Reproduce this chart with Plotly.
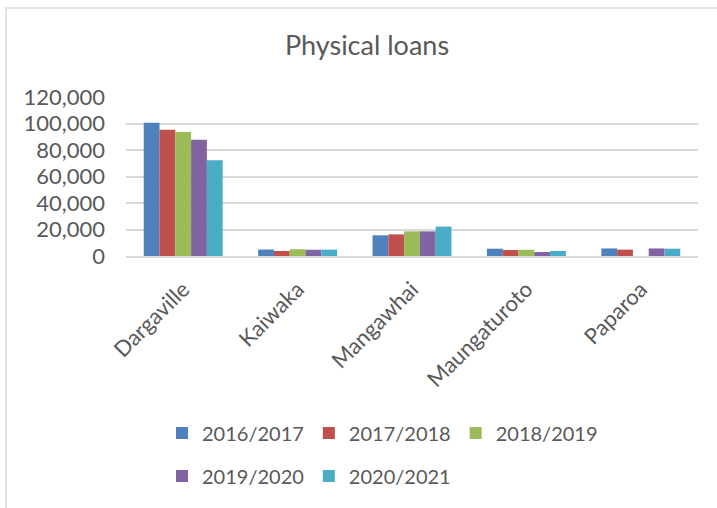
import plotly.graph_objects as go

categories = ["Dargaville", "Kaiwaka", "Mangawhai", "Maungaturoto", "Paparoa"]
series_names = ["2016/2017", "2017/2018", "2018/2019", "2019/2020", "2020/2021"]
v_2016_2017 = [100500, 4900, 15600, 5500, 5700]
v_2017_2018 = [95300, 3800, 16300, 4500, 4800]
v_2018_2019 = [93500, 5100, 18600, 4700, None]
v_2019_2020 = [87700, 4700, 18600, 3000, 5700]
v_2020_2021 = [72300, 4800, 22200, 3800, 5500]
series_values = [v_2016_2017, v_2017_2018, v_2018_2019, v_2019_2020, v_2020_2021]
colors = ["#4F81BD", "#C0504D", "#9BBB59", "#8064A2", "#4BACC6"]
legend_ids = ["legend", "legend", "legend", "legend2", "legend2"]

FONT = "Lato"
TXT = "#595959"
W, H = 717, 508
ML, MR, MT, MB = 126, 19, 97, 252
pw, ph = W - ML - MR, H - MT - MB

fig = go.Figure()
for name, vals, col, lg in zip(series_names, series_values, colors, legend_ids):
    fig.add_trace(go.Bar(
        x=categories, y=vals, name=name, legend=lg,
        marker=dict(color=col, line=dict(width=0)),
    ))

def px_x(x):
    return (x - ML) / pw

def px_y(y):
    return (H - MB - y) / ph

leg_common = dict(
    orientation="h", xanchor="left", yanchor="middle",
    font=dict(family=FONT, size=20, color=TXT),
    itemwidth=30,
    bgcolor="rgba(0,0,0,0)", tracegroupgap=0,
)

fig.update_layout(
    width=W, height=H,
    margin=dict(l=ML, r=MR, t=MT, b=MB),
    paper_bgcolor="white", plot_bgcolor="white",
    barmode="group", bargap=0.31, bargroupgap=0,
    font=dict(family=FONT, color=TXT),
    title=dict(text="Physical loans", font=dict(family=FONT, size=27, color=TXT),
               xref="container", x=367 / W, xanchor="center",
               yref="container", y=1 - 46 / H, yanchor="middle"),
    legend=dict(x=px_x(162), y=px_y(433), **leg_common),
    legend2=dict(x=px_x(162), y=px_y(476), **leg_common),
    showlegend=True,
    shapes=[dict(type="rect", xref="paper", yref="paper",
                 x0=px_x(6), x1=px_x(760), y0=px_y(560), y1=px_y(8),
                 line=dict(color="#D9D9D9", width=1.5), fillcolor="rgba(0,0,0,0)",
                 layer="below")],
)
fig.update_xaxes(
    tickangle=-45, tickfont=dict(family=FONT, size=22, color=TXT),
    showline=True, linecolor="#D9D9D9", linewidth=1.5, ticks="",
    showgrid=False, ticklabelstandoff=10,
)
fig.update_yaxes(
    range=[0, 120000], dtick=20000, tickformat=",d",
    tickfont=dict(family=FONT, size=22, color=TXT),
    showgrid=True, gridcolor="#D9D9D9", gridwidth=1.5,
    zeroline=False, showline=False, ticks="", ticklabelstandoff=20,
)

fig.write_html("out.html")
